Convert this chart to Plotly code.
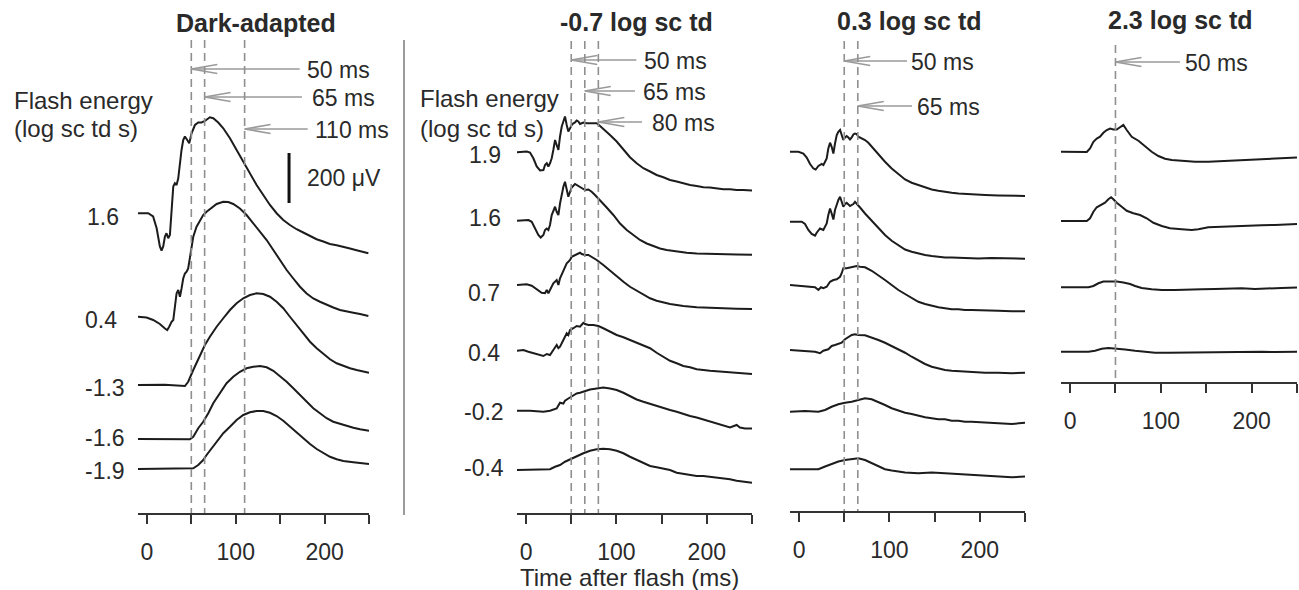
import plotly.graph_objects as go

W, H = 1299, 590

# ---------------- DATA (time in ms, amplitude in microvolts) ----------------
# Dark-adapted panel
da_labels = ["1.6", "0.4", "-1.3", "-1.6", "-1.9"]
da_offsets = [1199, 785, 512, 296, 176]
t_da_16 = [-10, 1.5, 7, 11, 14.6, 16.5, 18.4, 20.3, 22.1, 24, 25.9, 27.8, 29.7, 31.5, 33.4, 35.3, 37.2, 39, 40.9, 42.8,
           45.4, 47.7, 50.3, 54.1, 57.8, 61.6, 65.3, 70.9, 74.7, 80.3, 86, 93.5, 101, 108.5, 116, 123.5, 131, 138.5, 146,
           153.5, 161, 168.5, 176, 183.6, 191, 198.6, 206, 213.6, 221, 228.6, 236, 243.6, 249.3]
v_da_16 = [0, 0, -13, -60, -133, -149, -133, -93, -80, -100, -87, 13, 107, 120, 113, 140, 207, 253, 293, 307,
           293, 280, 320, 353, 363, 363, 369, 384, 380, 363, 340, 300, 253, 207, 160, 113, 73, 33, 0,
           -27, -47, -64, -77, -91, -104, -113, -123, -128, -133, -141, -148, -156, -160]
t_da_04 = [-10, -0.4, 7.1, 14.6, 20.3, 22.9, 25.1, 27.8, 29.7, 31.5, 33.4, 35.3, 37.2, 39.0, 40.9, 42.8, 44.7, 46.5,
           48.4, 50.3, 52.2, 55.9, 59.7, 63.4, 67.2, 72.8, 78.5, 86.0, 91.6, 97.2, 104.7, 112.2, 119.7, 127.3, 134.8,
           142.3, 149.8, 157.3, 164.8, 172.3, 179.8, 187.3, 194.8, 202.3, 209.8, 217.3, 224.8, 232.4, 239.9, 249.3]
v_da_04 = [0, -3, -13, -29, -47, -53, -40, -20, -13, 47, 93, 107, 80, 113, 153, 173, 180, 193, 240, 280,
           320, 360, 387, 407, 420, 437, 451, 460, 459, 451, 433, 407, 373, 340, 307, 267, 227, 187, 153, 120,
           93, 73, 60, 47, 37, 27, 20, 16, 11, 3]
t_da_m13 = [-10, 20, 42.8, 46.5, 52.2, 59.7, 65.3, 70.9, 78.5, 86.0, 93.5, 101.0, 108.5, 116.0, 123.5, 131.0, 138.5,
            146.0, 153.5, 161.0, 168.5, 176.0, 183.6, 191.1, 198.6, 206.1, 213.6, 221.1, 228.6, 236.1, 243.6, 250]
v_da_m13 = [0, 1, -4, 13, 60, 120, 160, 193, 233, 267, 300, 327, 347, 360, 367, 364, 353, 333, 307, 273, 240,
            207, 173, 147, 124, 103, 87, 76, 67, 60, 53, 49]
t_da_m16 = [-10, 20, 48.4, 52.2, 57.8, 63.4, 69.1, 74.7, 82.2, 89.7, 97.2, 104.7, 112.2, 119.7, 127.3, 134.8, 142.3,
            149.8, 157.3, 164.8, 172.3, 179.8, 187.3, 194.8, 202.3, 209.8, 217.3, 224.8, 232.4, 239.9, 250]
v_da_m16 = [0, 1, -1, 9, 43, 69, 103, 143, 183, 223, 249, 269, 283, 289, 292, 287, 273, 252, 229, 203, 176,
            149, 123, 103, 83, 69, 60, 52, 45, 39, 33]
t_da_m19 = [-10, 20, 52.2, 57.8, 63.4, 67.2, 72.8, 78.5, 86.0, 93.5, 101.0, 108.5, 116.0, 123.5, 131.0, 138.5, 146.0,
            153.5, 161.0, 168.5, 176.0, 183.6, 191.1, 198.6, 206.1, 213.6, 221.1, 232.4, 243.6, 250]
v_da_m19 = [0, 1, 3, 16, 36, 56, 83, 109, 143, 169, 196, 216, 227, 232, 232, 225, 212, 193, 169, 145, 123,
            100, 80, 63, 49, 39, 32, 27, 23, 20]

# -0.7 log sc td panel
l07_labels = ["1.9", "1.6", "0.7", "0.4", "-0.2", "-0.4"]
l07_offsets = [1443, 1169, 912, 652, 409, 172]
t_l07_19 = [-10, 0.7, 4.4, 8.1, 11.8, 15.5, 19.2, 21.0, 22.9, 24.7, 26.5, 28.4, 30.2, 32.1, 33.9, 35.8, 37.6, 39.5,
            41.3, 43.1, 45.0, 46.8, 48.7, 50.5, 52.4, 54.2, 56.0, 57.9, 59.7, 63.4, 67.1, 70.8, 74.5, 78.2, 81.9, 85.5,
            92.9, 100.3, 107.7, 115.0, 122.4, 129.8, 137.2, 144.5, 151.9, 159.3, 166.7, 174.0, 181.4, 188.8, 196.2,
            203.5, 210.9, 218.3, 225.7, 233.0, 240.4, 250]
v_l07_19 = [0, 3, -1, -24, -57, -73, -71, -51, -44, -57, -44, -24, 9, 49, 29, 9, 63, 103, 123, 143,
            109, 83, 96, 109, 116, 119, 127, 123, 113, 119, 116, 116, 113, 116, 105, 92, 69, 43, 9, -20,
            -44, -64, -77, -91, -100, -111, -117, -124, -131, -135, -140, -141, -145, -148, -148, -151, -151, -153]
t_l07_16 = [-10, 2.6, 6.3, 10.0, 13.6, 16.2, 19.2, 21.0, 22.9, 24.7, 26.5, 28.4, 30.2, 32.1, 33.9, 35.8, 37.6, 39.5,
            41.3, 43.1, 45.0, 46.8, 48.7, 50.5, 54.2, 57.9, 61.6, 65.3, 69.0, 72.6, 76.3, 81.9, 89.2, 96.6, 104.0,
            111.4, 118.7, 126.1, 133.5, 140.9, 148.2, 155.6, 163.0, 170.4, 177.7, 188.8, 203.5, 218.3, 233.0, 250]
v_l07_16 = [0, 3, -4, -31, -57, -67, -57, -37, -31, -37, -17, 23, 43, 56, 36, 23, 69, 109, 136, 156,
            123, 96, 116, 133, 147, 139, 129, 123, 125, 116, 103, 83, 53, 23, -11, -37, -57, -77, -91, -101,
            -111, -117, -121, -124, -128, -131, -133, -133, -135, -136]
t_l07_07 = [-10, 0.7, 6.3, 11.8, 17.3, 21.0, 22.9, 24.7, 26.5, 30.2, 33.9, 35.8, 37.6, 41.3, 45.0, 46.8, 48.7, 50.5,
            54.2, 57.9, 59.7, 61.6, 65.3, 69.0, 72.6, 78.2, 85.5, 92.9, 100.3, 107.7, 115.0, 122.4, 129.8, 137.2,
            144.5, 151.9, 159.3, 166.7, 174.0, 188.8, 203.5, 218.3, 233.0, 250]
v_l07_07 = [0, 3, -3, -17, -31, -33, -20, -33, -20, 7, 20, 0, 27, 60, 87, 93, 100, 113, 120, 124,
            129, 124, 120, 120, 113, 100, 80, 57, 36, 13, -7, -23, -40, -53, -63, -71, -76, -80, -84, -89,
            -92, -93, -95, -96]
t_l07_04 = [-10, -2.9, 2.6, 8.1, 13.6, 19.2, 22.9, 26.5, 30.2, 33.9, 35.8, 37.6, 41.3, 45.0, 46.8, 48.7, 52.4, 56.0,
            59.7, 63.4, 65.3, 69.0, 74.5, 80.0, 85.5, 92.9, 100.3, 107.7, 115.0, 122.4, 129.8, 137.2, 144.5, 151.9,
            159.3, 166.7, 174.0, 181.4, 188.8, 203.5, 218.3, 233.0, 250]
v_l07_04 = [-3, 0, -7, -13, -20, -24, -16, -20, 0, 20, 7, 13, 40, 67, 60, 80, 87, 96, 93, 109,
            104, 100, 100, 96, 87, 73, 60, 51, 40, 29, 20, 7, -11, -27, -43, -53, -64, -69, -77, -83,
            -87, -91, -96]
t_l07_m02 = [-10, 4.4, 19.2, 26.5, 33.9, 37.6, 41.3, 43.1, 46.8, 50.5, 56.0, 59.7, 63.4, 70.8, 78.2, 85.5, 92.9,
             100.3, 107.7, 115.0, 122.4, 129.8, 137.2, 144.5, 151.9, 159.3, 166.7, 174.0, 181.4, 188.8, 196.2, 203.5,
             210.9, 218.3, 225.7, 233.0, 236.7, 242.3, 250]
v_l07_m02 = [0, 0, -4, 0, 9, 32, 29, 40, 49, 56, 69, 72, 76, 85, 89, 93, 89, 83, 72, 59,
             45, 36, 27, 19, 9, 3, -4, -13, -21, -27, -35, -44, -53, -61, -67, -57, -67, -71, -71]
t_l07_m04 = [-10, 11.8, 26.5, 32.1, 37.6, 43.1, 48.7, 56.0, 63.4, 70.8, 78.2, 85.5, 92.9, 100.3, 107.7, 115.0, 122.4,
             129.8, 137.2, 144.5, 151.9, 159.3, 166.7, 174.0, 181.4, 188.8, 196.2, 203.5, 210.9, 218.3, 225.7, 233.0,
             242.3, 250]
v_l07_m04 = [0, 0, 3, 13, 20, 33, 43, 56, 67, 77, 83, 85, 83, 77, 67, 53, 40, 27, 16, 11,
             5, 0, -11, -16, -20, -24, -24, -27, -29, -33, -37, -43, -47, -51]

# 0.3 log sc td panel
p03_offsets = [1437, 1157, 904, 644, 400, 167]
t_p03_1 = [-10, -0.7, 4.8, 8.5, 12.2, 15.9, 18.4, 21.4, 25.1, 26.9, 28.8, 30.6, 32.4, 34.3, 36.1, 38.0, 39.8, 41.7,
           43.5, 45.4, 47.2, 49.0, 50.9, 52.7, 54.6, 56.4, 58.3, 60.1, 61.9, 63.8, 65.6, 69.3, 73.0, 76.7, 80.4, 84.1,
           87.8, 95.1, 102.5, 109.9, 117.3, 124.6, 132.0, 139.4, 146.8, 154.1, 161.5, 168.9, 176.3, 183.6, 191.0,
           198.4, 205.8, 220.5, 235.3, 250]
v_p03_1 = [0, 0, -7, -23, -49, -67, -71, -57, -49, -53, -40, -27, 13, 36, 20, -7, 33, 67, 80, 87,
           67, 47, 57, 63, 57, 49, 57, 69, 73, 71, 60, 53, 47, 36, 20, 4, -13, -40, -67, -89,
           -111, -124, -133, -143, -151, -156, -161, -164, -167, -169, -171, -172, -173, -175, -176, -177]
t_p03_2 = [-10, 3.0, 6.6, 10.3, 14.0, 17.7, 19.5, 23.2, 26.9, 28.8, 30.6, 32.4, 34.3, 36.1, 38.0, 39.8, 41.7, 43.5,
           45.4, 47.2, 49.0, 50.9, 52.7, 56.4, 60.1, 61.9, 63.8, 67.5, 73.0, 80.4, 87.8, 95.1, 102.5, 109.9, 117.3,
           124.6, 132.0, 139.4, 146.8, 154.1, 161.5, 168.9, 183.6, 198.4, 213.1, 227.9, 242.6, 250]
v_p03_2 = [0, 0, -9, -33, -49, -56, -44, -27, -33, -20, -7, 27, 53, 33, 9, 47, 73, 87, 100, 80,
           60, 71, 76, 63, 71, 80, 73, 57, 33, 4, -27, -53, -76, -93, -111, -120, -127, -133, -137, -140,
           -143, -143, -145, -147, -145, -147, -148, -148]
t_p03_3 = [-10, 6.6, 17.7, 21.4, 24.3, 26.9, 30.6, 34.3, 38.0, 41.7, 45.4, 47.2, 49.0, 52.7, 56.4, 60.1, 63.8, 67.5,
           73.0, 80.4, 87.8, 95.1, 102.5, 109.9, 117.3, 124.6, 132.0, 139.4, 146.8, 154.1, 161.5, 168.9, 176.3,
           183.6, 191.0, 205.8, 220.5, 235.3, 250]
v_p03_3 = [0, -4, -9, -20, -9, -13, -7, 13, 20, 23, 33, 47, 67, 67, 71, 73, 76, 73, 71, 57,
           40, 20, 0, -20, -36, -53, -67, -76, -84, -89, -93, -97, -97, -100, -100, -103, -103, -105, -105]
t_p03_4 = [-10, 6.6, 17.7, 23.2, 26.9, 32.4, 36.1, 39.8, 43.5, 47.2, 50.9, 54.6, 58.3, 61.9, 65.6, 73.0, 80.4, 87.8,
           95.1, 102.5, 109.9, 117.3, 124.6, 132.0, 139.4, 146.8, 154.1, 161.5, 168.9, 176.3, 191.0, 205.8, 220.5,
           235.3, 250]
v_p03_4 = [0, -3, -7, -13, -3, 3, 16, 20, 23, 29, 43, 51, 60, 63, 60, 59, 51, 40, 29, 16,
           3, -11, -27, -43, -56, -67, -73, -80, -83, -85, -88, -91, -91, -93, -91]
t_p03_5 = [-10, 6.6, 21.4, 28.8, 36.1, 43.5, 50.9, 58.3, 65.6, 73.0, 80.4, 87.8, 95.1, 102.5, 109.9, 117.3, 124.6,
           132.0, 139.4, 146.8, 154.1, 161.5, 168.9, 176.3, 183.6, 191.0, 205.8, 220.5, 235.3, 250]
v_p03_5 = [-3, 0, -3, 4, 17, 27, 33, 37, 44, 51, 47, 37, 24, 11, 1, -7, -12, -20, -25, -29,
           -33, -33, -39, -39, -43, -43, -47, -49, -52, -47]
t_p03_6 = [-10, 6.6, 21.4, 28.8, 36.1, 43.5, 50.9, 58.3, 65.6, 73.0, 80.4, 87.8, 95.1, 102.5, 117.3, 132.0, 146.8,
           161.5, 176.3, 191.0, 205.8, 220.5, 235.3, 250]
v_p03_6 = [0, 0, 0, 11, 21, 31, 37, 40, 44, 37, 24, 11, 0, -5, -13, -16, -13, -16, -19, -23, -27, -29, -32, -29]

# 2.3 log sc td panel
p23_offsets = [921, 644, 379, 121]
t_p23_1 = [-10, 5.5, 18.4, 22.0, 25.7, 29.4, 33.0, 36.7, 40.4, 44.1, 47.7, 51.4, 55.1, 58.7, 62.4, 67.9, 75.3, 82.6,
           89.9, 97.3, 104.6, 112.0, 123.0, 137.7, 152.3, 167.0, 181.7, 196.4, 211.1, 225.8, 240.5, 250]
v_p23_1 = [0, 0, -1, 13, 40, 53, 60, 76, 87, 93, 89, 89, 100, 107, 87, 60, 44, 23, 0, -17,
           -28, -33, -36, -40, -40, -37, -36, -33, -31, -28, -25, -23]
t_p23_2 = [-10, 5.5, 18.4, 22.0, 25.7, 29.4, 34.9, 38.5, 42.2, 45.2, 47.7, 51.4, 56.9, 62.4, 69.7, 77.1, 84.4, 91.8,
           101.0, 110.1, 123.0, 134.0, 141.3, 152.3, 167.0, 181.7, 196.4, 211.1, 225.8, 240.5, 250]
v_p23_2 = [0, 1, 0, 11, 37, 55, 64, 73, 87, 95, 87, 73, 57, 41, 31, 24, 11, -7, -20, -29,
           -33, -36, -33, -25, -23, -20, -20, -17, -16, -13, -12]
t_p23_3 = [-10, 20.2, 25.7, 31.2, 36.7, 44.1, 51.4, 58.7, 66.1, 71.6, 78.9, 89.9, 101.0, 115.6, 130.3, 145.0, 159.7,
           174.4, 189.1, 203.7, 218.4, 233.1, 250]
v_p23_3 = [0, 0, 5, 16, 23, 24, 23, 19, 13, 5, -3, -8, -11, -11, -8, -8, -7, -5, -4, -7, -4, -3, -1]
t_p23_4 = [-10, 20.2, 27.5, 34.9, 42.2, 51.4, 60.6, 71.6, 82.6, 93.6, 108.3, 123.0, 137.7, 152.3, 167.0, 181.7, 196.4,
           211.1, 225.8, 240.5, 250]
v_p23_4 = [0, 0, 4, 12, 15, 13, 9, 4, -1, -4, -4, -3, -4, -3, -1, -1, -1, 0, -1, 0, 0]

# Latency markers (ms)
lat_da = [50, 65, 110]
lat_l07 = [50, 65, 80]
lat_p03 = [50, 65]
lat_p23 = [50]

panel_titles = ["Dark-adapted", "-0.7 log sc td", "0.3 log sc td", "2.3 log sc td"]
tick_vals = [0, 50, 100, 150, 200, 250]
tick_text = ["0", "", "100", "", "200", ""]
scale_bar_uv = 200

# ---------------- LAYOUT GEOMETRY ----------------
def px(X):
    return X / W

def py(Y):
    return 1 - Y / H

UV_PER_PX = 4.0
FONT = "Liberation Sans, Arial, Helvetica, sans-serif"
TXT = "#2a2a2a"
TRACE = "#1c1c1c"
GRAY = "#8f8f8f"

# (x-left px, x-right px, axis line Y px)
panels = [(138, 369, 513), (517, 752, 513), (790, 1025, 511), (1061, 1297, 382)]

fig = go.Figure()

series = [
    (1, [(t_da_16, v_da_16), (t_da_04, v_da_04), (t_da_m13, v_da_m13), (t_da_m16, v_da_m16), (t_da_m19, v_da_m19)], da_offsets),
    (2, [(t_l07_19, v_l07_19), (t_l07_16, v_l07_16), (t_l07_07, v_l07_07), (t_l07_04, v_l07_04), (t_l07_m02, v_l07_m02), (t_l07_m04, v_l07_m04)], l07_offsets),
    (3, [(t_p03_1, v_p03_1), (t_p03_2, v_p03_2), (t_p03_3, v_p03_3), (t_p03_4, v_p03_4), (t_p03_5, v_p03_5), (t_p03_6, v_p03_6)], p03_offsets),
    (4, [(t_p23_1, v_p23_1), (t_p23_2, v_p23_2), (t_p23_3, v_p23_3), (t_p23_4, v_p23_4)], p23_offsets),
]

for idx, trs, offs in series:
    suffix = "" if idx == 1 else str(idx)
    for (tt, vv), off in zip(trs, offs):
        fig.add_trace(go.Scatter(
            x=tt, y=[v + off for v in vv], mode="lines",
            line=dict(color=TRACE, width=2),
            xaxis="x" + suffix, yaxis="y" + suffix,
            showlegend=False, hoverinfo="skip"))

layout_axes = {}
for i, (xl, xr, ay) in enumerate(panels, start=1):
    suffix = "" if i == 1 else str(i)
    layout_axes["xaxis" + suffix] = dict(
        domain=[px(xl), px(xr)], range=[-10, 250], anchor="y" + suffix,
        showline=True, linecolor="#333333", linewidth=2,
        ticks="outside", ticklen=9, tickwidth=2, tickcolor="#333333",
        tickvals=tick_vals, ticktext=tick_text, ticklabelstandoff=8,
        tickfont=dict(family=FONT, size=23, color=TXT),
        showgrid=False, zeroline=False, fixedrange=True)
    layout_axes["yaxis" + suffix] = dict(
        domain=[py(ay), 1], range=[0, ay * UV_PER_PX], anchor="x" + suffix,
        visible=False, showgrid=False, zeroline=False, fixedrange=True)

shapes = []
annotations = []

def text(s, X, Y, size=23, anchor="left", bold=False):
    annotations.append(dict(
        text=("<b>%s</b>" % s) if bold else s, x=px(X), y=py(Y), xref="paper", yref="paper",
        xanchor=anchor, yanchor="middle", showarrow=False,
        font=dict(family=FONT, size=size, color=TXT)))

# dashed latency lines + arrows
lat_sets = [lat_da, lat_l07, lat_p03, lat_p23]
dash_tops = [40, 41, 41, 45]
arrow_rows = [
    [(69, 172, 305), (97, 174.5, 310), (129, 181, 313)],
    [(60, 122, 642), (91, 120.6, 641), (122, 128.3, 650)],
    [(61, 119.5, 909), (106, 125, 915)],
    [(62, 121, 1183)],
]
for i, lats in enumerate(lat_sets, start=1):
    suffix = "" if i == 1 else str(i)
    xl, xr, ay = panels[i - 1]
    ms_per_px = 260.0 / (xr - xl)
    for lat, (ya, tail, tx) in zip(lats, arrow_rows[i - 1]):
        shapes.append(dict(type="line", xref="x" + suffix, yref="paper",
                           x0=lat, x1=lat, y0=py(dash_tops[i - 1]), y1=py(ay),
                           line=dict(color=GRAY, width=1.6, dash="8px,5px")))
        shapes.append(dict(type="line", xref="x" + suffix, yref="paper",
                           x0=lat, x1=tail, y0=py(ya), y1=py(ya),
                           line=dict(color="#9a9a9a", width=1.6)))
        bl = 26 * ms_per_px
        shapes.append(dict(type="path", xref="x" + suffix, yref="paper",
                           path="M %f,%f L %f,%f L %f,%f" % (lat + bl, py(ya - 4.5), lat, py(ya), lat + bl, py(ya + 4.5)),
                           line=dict(color="#9a9a9a", width=1.6)))
        text("%d ms" % lat, tx, ya + 1, size=23)

# separator
shapes.append(dict(type="line", xref="paper", yref="paper", x0=px(404), x1=px(404),
                   y0=py(40), y1=py(515), line=dict(color="#7a7a7a", width=1.5)))

# scale bar (200 uV) in panel 1 data units
sb_base = (513 - 203) * UV_PER_PX
shapes.append(dict(type="line", xref="x", yref="y", x0=160, x1=160,
                   y0=sb_base, y1=sb_base + scale_bar_uv,
                   line=dict(color="#111111", width=3)))
text("200 μV", 305, 178, size=23)

# titles
for s, X, Y in zip(panel_titles, [256, 636, 909, 1180], [23, 22, 21, 20]):
    text(s, X, Y, size=25, anchor="center", bold=True)

# flash energy labels
text("Flash energy", 12, 100, size=24)
text("(log sc td s)", 12, 128, size=24)
text("Flash energy", 418, 98, size=24)
text("(log sc td s)", 418, 128, size=24)

# trace labels
for s, X, Y in zip(da_labels, [85, 83, 83, 83, 83], [217, 320, 388, 438, 471]):
    text(s, X, Y, size=23)
for s, X, Y in zip(l07_labels, [467, 467, 466, 466, 462, 462], [155, 218, 293, 353, 412, 468]):
    text(s, X, Y, size=23)

# x axis title
text("Time after flash (ms)", 629, 577, size=24, anchor="center")

fig.update_layout(
    width=W, height=H, margin=dict(l=0, r=0, t=0, b=0),
    paper_bgcolor="white", plot_bgcolor="white",
    shapes=shapes, annotations=annotations, showlegend=False,
    **layout_axes)

fig.write_html("out.html", config={"displayModeBar": False, "staticPlot": True},
               post_script="document.body.style.margin='0';document.body.style.padding='0';document.body.style.overflow='hidden';")
